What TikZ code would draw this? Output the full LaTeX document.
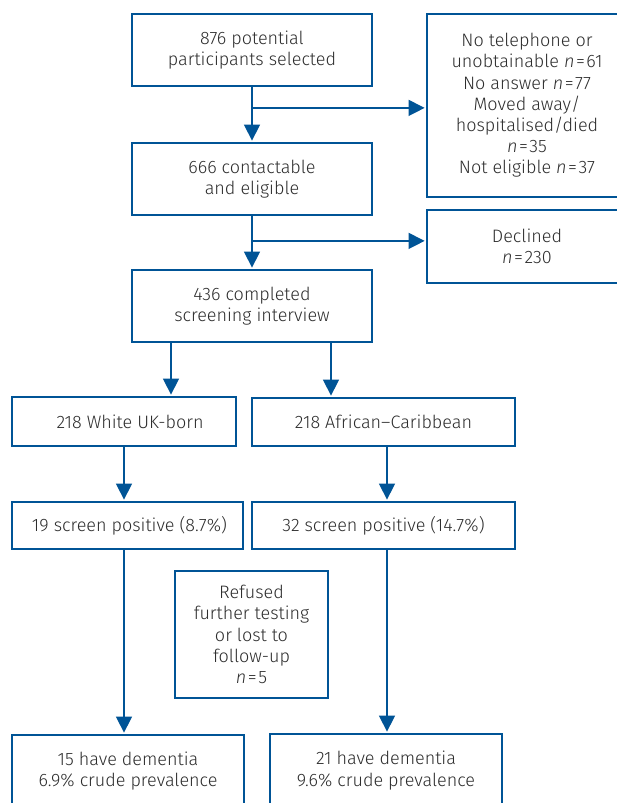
\documentclass[tikz,border=0pt]{standalone}
\usepackage{fontspec}
\setmainfont{Fira Sans}[UprightFont=* Light, ItalicFont=* Light Italic]
\usetikzlibrary{arrows.meta}
\definecolor{fblue}{RGB}{0,84,150}
\definecolor{ftext}{RGB}{45,45,45}
\newcommand{\nn}{\textit{n}\kern1.5pt=\kern1.5pt}
\tikzset{
  box/.style={draw=fblue, line width=1.8pt, text=ftext, align=center, inner sep=0pt,
    font=\fontsize{18}{21.2}\selectfont},
  conn/.style={draw=fblue, line width=1.4pt, shorten >=1.5pt,
    -{Triangle[length=16pt,width=16pt]}},
}
\begin{document}
\begin{tikzpicture}[x=1pt,y=-1pt]
\clip (0,0) rectangle (617,803);
\fill[white] (0,0) rectangle (617,803);
\node[box, minimum width=240pt, minimum height=72pt] (b1) at (252,50) {876 potential\\participants selected};
\node[box, minimum width=200pt, minimum height=183pt] (r1) at (527,105.5) {No telephone or\\unobtainable \nn61\\No answer \nn77\\Moved away/\\hospitalised/died\\\nn35\\Not eligible \nn37};
\node[box, minimum width=240pt, minimum height=72pt] (b2) at (252,179) {666 contactable\\and eligible};
\node[box, minimum width=200pt, minimum height=73pt] (r2) at (527,246.5) {Declined\\\nn230};
\node[box, minimum width=240pt, minimum height=72pt] (b3) at (252,306) {436 completed\\screening interview};
\node[box, minimum width=224pt, minimum height=49pt] (white) at (124,421.5) {\hspace*{12pt}218 White UK-born};
\node[box, minimum width=263pt, minimum height=48pt] (afr) at (383.5,422) {218 African--Caribbean};
\node[box, minimum width=231pt, minimum height=47pt] (pos19) at (127.5,525.5) {\hspace*{4pt}19 screen positive (8.7\%)};
\node[box, minimum width=263pt, minimum height=47pt] (pos32) at (383.5,525.5) {32 screen positive (14.7\%)};
\node[box, minimum width=153pt, minimum height=127pt] (ref) at (251.5,634.5) {Refused\\further testing\\or lost to\\follow-up\\\nn5};
\node[box, minimum width=232pt, minimum height=72pt] (dem15) at (128,771) {15 have dementia\\6.9\% crude prevalence};
\node[box, minimum width=232pt, minimum height=73pt] (dem21) at (386,770.5) {21 have dementia\\9.6\% crude prevalence};
% connectors
\draw[conn] (b1.south) -- (b2.north);
\coordinate (j1) at ([yshift=-21pt]b1.south);
\draw[conn] (j1) -- (r1.west |- j1);
\draw[conn] (b2.south) -- (b3.north);
\coordinate (j2) at ([yshift=-25pt]b2.south);
\draw[conn] (j2) -- (r2.west |- j2);
\draw[conn] ([xshift=-81pt]b3.south) -- ([xshift=-81pt]b3.south |- white.north);
\draw[conn] ([xshift=79pt]b3.south) -- ([xshift=79pt]b3.south |- afr.north);
\draw[conn] (white.south) -- (white.south |- pos19.north);
\draw[conn] ([xshift=3.5pt]afr.south) -- ([xshift=3.5pt]afr.south |- pos32.north);
\draw[conn] ([xshift=-3.5pt]pos19.south) -- ([xshift=-3.5pt]pos19.south |- dem15.north);
\draw[conn] ([xshift=3.5pt]pos32.south) -- ([xshift=3.5pt]pos32.south |- dem21.north);
\end{tikzpicture}
\end{document}
